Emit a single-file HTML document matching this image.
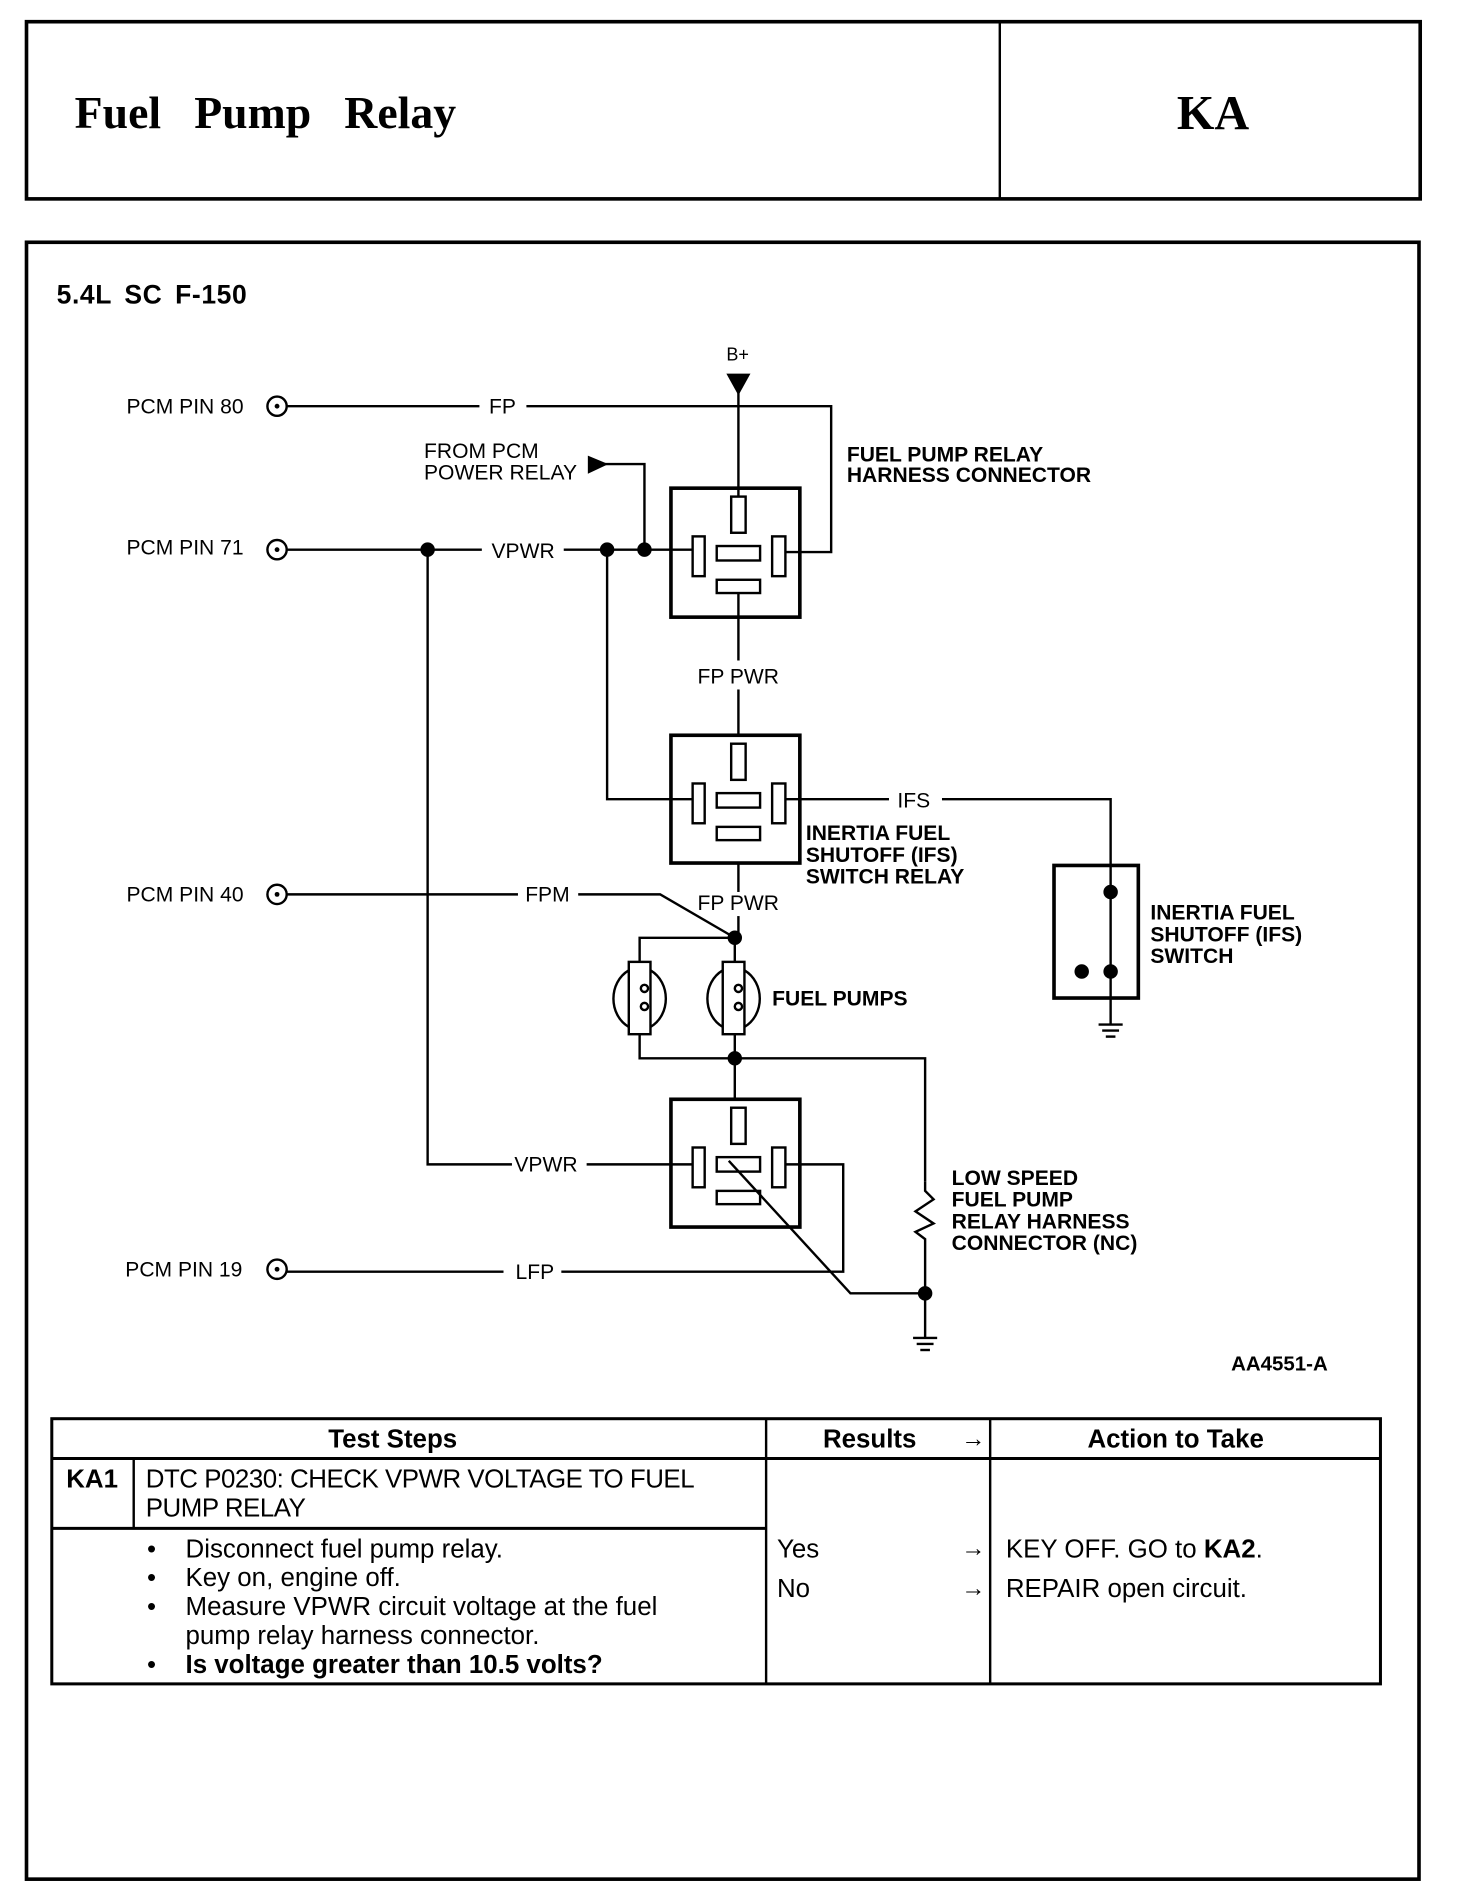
<!DOCTYPE html>
<html><head><meta charset="utf-8"><style>html,body{margin:0;padding:0;background:#fff}svg{display:block}</style></head><body>
<svg width="1472" height="1890" viewBox="0 0 1222 1568" preserveAspectRatio="none" xmlns="http://www.w3.org/2000/svg" font-family="Liberation Sans, sans-serif">
<g fill="none" stroke="#000">
<rect x="22" y="18" width="1157" height="147" stroke-width="3"/>
<line x1="830" y1="18" x2="830" y2="165" stroke-width="2"/>
<rect x="22" y="201" width="1156" height="1358" stroke-width="3"/>
</g>
<text x="62" y="106" font-family="Liberation Serif, serif" font-weight="bold" font-size="38" word-spacing="18">Fuel Pump Relay</text>
<text x="1007" y="107" font-family="Liberation Serif, serif" font-weight="bold" font-size="40" text-anchor="middle">KA</text>
<text x="47" y="252" font-weight="bold" font-size="22" letter-spacing="0.5" word-spacing="4">5.4L SC F-150</text>

<g stroke="#000" stroke-width="2" fill="none">
<circle cx="230" cy="337" r="8"/><circle cx="230" cy="456" r="8"/><circle cx="230" cy="742" r="8"/><circle cx="230" cy="1053" r="8"/>
<polyline points="238,337 398,337"/><polyline points="437,337 690,337 690,458 652,458"/>
<line x1="613" y1="320" x2="613" y2="412"/>
<polyline points="500,385 535,385 535,456"/>
<line x1="238" y1="456" x2="400" y2="456"/><line x1="468" y1="456" x2="575" y2="456"/>
<rect x="557" y="405" width="107" height="107" stroke-width="3"/>
<rect x="607" y="412" width="12" height="30"/><rect x="575" y="445" width="10" height="33"/><rect x="595" y="453" width="36" height="12"/><rect x="641" y="445" width="11" height="33"/><rect x="595" y="481" width="36" height="11"/>
<line x1="613" y1="492" x2="613" y2="548"/><line x1="613" y1="572" x2="613" y2="610"/>
<rect x="557" y="610" width="107" height="106" stroke-width="3"/>
<rect x="607" y="617" width="12" height="30"/><rect x="575" y="650" width="10" height="33"/><rect x="595" y="658" width="36" height="12"/><rect x="641" y="650" width="11" height="33"/><rect x="595" y="686" width="36" height="11"/>
<polyline points="504,456 504,663 575,663"/>
<line x1="652" y1="663" x2="738" y2="663"/><polyline points="782,663 922,663 922,740"/>
<line x1="613" y1="716" x2="613" y2="740"/><line x1="613" y1="760" x2="613" y2="778"/>
<rect x="875" y="718" width="70" height="110" stroke-width="3"/>
<line x1="922" y1="740" x2="922" y2="850"/>
<line x1="912" y1="850" x2="932" y2="850"/><line x1="915" y1="855" x2="929" y2="855"/><line x1="918" y1="860" x2="926" y2="860"/>
<line x1="238" y1="742" x2="430" y2="742"/><polyline points="480,742 548,742 610,778"/>
<polyline points="610,778 531,778 531,798"/><line x1="610" y1="778" x2="610" y2="798"/>
<polyline points="531,858 531,878 768,878 768,980"/><line x1="610" y1="858" x2="610" y2="912"/>
<rect x="522" y="798" width="18" height="60"/>
<path d="M522,805 C505,815 505,842 522,852 M540,805 C557,815 557,842 540,852"/>
<circle cx="535" cy="820" r="3"/><circle cx="535" cy="835" r="3"/>
<rect x="600" y="798" width="18" height="60"/>
<path d="M600,805 C583,815 583,842 600,852 M618,805 C635,815 635,842 618,852"/>
<circle cx="613" cy="820" r="3"/><circle cx="613" cy="835" r="3"/>
<rect x="557" y="912" width="107" height="106" stroke-width="3"/>
<rect x="607" y="919" width="12" height="30"/><rect x="575" y="952" width="10" height="33"/><rect x="595" y="960" width="36" height="12"/><rect x="641" y="952" width="11" height="33"/><rect x="595" y="988" width="36" height="11"/>
<polyline points="355,456 355,966 425,966"/><line x1="487" y1="966" x2="575" y2="966"/>
<polyline points="652,966 700,966 700,1055 466,1055"/><line x1="238" y1="1055" x2="418" y2="1055"/>
<polyline points="605,963 706,1073 768,1073"/>
<polyline points="768,980 768,988 775,995 760,1005 775,1015 760,1022 768,1028 768,1110"/>
<line x1="758" y1="1110" x2="778" y2="1110"/><line x1="761" y1="1115" x2="775" y2="1115"/><line x1="764" y1="1120" x2="772" y2="1120"/>
</g>
<g fill="#000">
<circle cx="230" cy="337" r="2"/><circle cx="230" cy="456" r="2"/><circle cx="230" cy="742" r="2"/><circle cx="230" cy="1053" r="2"/>
<polygon points="603,310 623,310 613,328"/>
<polygon points="488,378 505,385 488,393"/>
<circle cx="355" cy="456" r="6"/><circle cx="504" cy="456" r="6"/><circle cx="535" cy="456" r="6"/>
<circle cx="610" cy="778" r="6"/><circle cx="610" cy="878" r="6"/><circle cx="768" cy="1073" r="6"/>
<circle cx="922" cy="740" r="6"/><circle cx="922" cy="806" r="6"/><circle cx="898" cy="806" r="6"/>
</g>
<g font-size="17.5" fill="#000">
<text x="105" y="343">PCM PIN 80</text><text x="105" y="460">PCM PIN 71</text><text x="105" y="748">PCM PIN 40</text><text x="104" y="1059">PCM PIN 19</text>
<text x="406" y="343">FP</text><text x="408" y="463">VPWR</text><text x="436" y="748">FPM</text><text x="427" y="972">VPWR</text><text x="428" y="1061">LFP</text>
<text x="603" y="299" font-size="15">B+</text>
<text x="352" y="380">FROM PCM</text><text x="352" y="398">POWER RELAY</text>
<text x="579" y="567">FP PWR</text><text x="579" y="755">FP PWR</text><text x="745" y="670">IFS</text>
<text x="1022" y="1137" font-weight="bold" font-size="17">AA4551-A</text>
</g>
<g font-size="17.5" font-weight="bold" fill="#000">
<text x="703" y="383">FUEL PUMP RELAY</text><text x="703" y="400">HARNESS CONNECTOR</text>
<text x="669" y="697">INERTIA FUEL</text><text x="669" y="715">SHUTOFF (IFS)</text><text x="669" y="733">SWITCH RELAY</text>
<text x="955" y="763">INERTIA FUEL</text><text x="955" y="781">SHUTOFF (IFS)</text><text x="955" y="799">SWITCH</text>
<text x="641" y="834">FUEL PUMPS</text>
<text x="790" y="983">LOW SPEED</text><text x="790" y="1001">FUEL PUMP</text><text x="790" y="1019">RELAY HARNESS</text><text x="790" y="1037">CONNECTOR (NC)</text>
</g>
<g stroke="#000" fill="none">
<rect x="43" y="1177" width="1103" height="220" stroke-width="2.5"/>
<line x1="43" y1="1210" x2="1146" y2="1210" stroke-width="2.5"/>
<line x1="636" y1="1177" x2="636" y2="1397" stroke-width="2"/>
<line x1="822" y1="1177" x2="822" y2="1397" stroke-width="2"/>
<line x1="111" y1="1210" x2="111" y2="1268" stroke-width="2"/>
<line x1="43" y1="1268" x2="636" y2="1268" stroke-width="2.5"/>
</g>
<g font-size="21.5" fill="#000">
<text x="326" y="1201" text-anchor="middle" font-weight="bold">Test Steps</text>
<text x="722" y="1201" text-anchor="middle" font-weight="bold">Results</text>
<text x="976" y="1201" text-anchor="middle" font-weight="bold">Action to Take</text>
<text x="798" y="1200" font-size="20">→</text>
<text x="55" y="1234" font-weight="bold">KA1</text>
<text x="121" y="1234" letter-spacing="-0.4">DTC P0230: CHECK VPWR VOLTAGE TO FUEL</text>
<text x="121" y="1258" letter-spacing="-0.4">PUMP RELAY</text>
<text x="122" y="1292">•</text><text x="154" y="1292">Disconnect fuel pump relay.</text>
<text x="122" y="1316">•</text><text x="154" y="1316">Key on, engine off.</text>
<text x="122" y="1340">•</text><text x="154" y="1340">Measure VPWR circuit voltage at the fuel</text>
<text x="154" y="1364">pump relay harness connector.</text>
<text x="122" y="1388">•</text><text x="154" y="1388" font-weight="bold">Is voltage greater than 10.5 volts?</text>
<text x="645" y="1292">Yes</text><text x="645" y="1325">No</text>
<text x="798" y="1291" font-size="20">→</text><text x="798" y="1324" font-size="20">→</text>
<text x="835" y="1292">KEY OFF. GO to <tspan font-weight="bold">KA2</tspan>.</text>
<text x="835" y="1325">REPAIR open circuit.</text>
</g>
</svg>
</body></html>
